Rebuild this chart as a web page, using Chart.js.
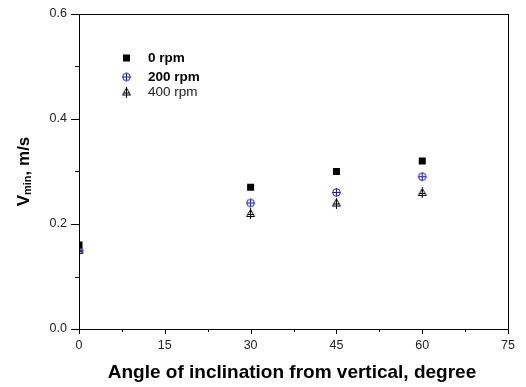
<!DOCTYPE html>
<html lang="en">
<head>
<meta charset="UTF-8" />
<title>Vmin vs angle of inclination</title>
<style>
  body { margin: 0; background: #fff; }
  #wrap { width: 526px; height: 387px; }
</style>
</head>
<body>
<div id="wrap"><canvas id="chart" width="526" height="387"></canvas></div>
<script src="https://cdn.jsdelivr.net/npm/chart.js"></script>
<script>
  const angles = [0, 30, 45, 60];
  const rpm0 = [0.16, 0.27, 0.30, 0.32];
  const rpm200 = [0.15, 0.24, 0.26, 0.29];
  const rpm400 = [0.15, 0.22, 0.24, 0.26];
  const seriesLabels = ["0 rpm", "200 rpm", "400 rpm"];
  const xTicks = [0, 15, 30, 45, 60, 75];
  const yTicks = [0.0, 0.2, 0.4, 0.6];

  const FONT = "'Liberation Sans', Arial, sans-serif";

  // marker images
  function makeMarker(kind) {
    const c = document.createElement("canvas");
    c.width = 11; c.height = 11;
    const g = c.getContext("2d");
    g.lineWidth = 1;
    if (kind === "square") {
      g.fillStyle = "#000";
      g.fillRect(2, 2, 7, 7);
    } else if (kind === "circle") {
      g.strokeStyle = "#1a1aa6";
      g.beginPath();
      g.arc(5.5, 5.5, 3.8, 0, Math.PI * 2);
      g.moveTo(1.5, 5.5); g.lineTo(9.5, 5.5);
      g.moveTo(5.5, 1.5); g.lineTo(5.5, 9.5);
      g.stroke();
    } else {
      g.strokeStyle = "#000";
      g.beginPath();
      g.moveTo(5.5, 1.5); g.lineTo(9.5, 8.5); g.lineTo(1.5, 8.5); g.closePath();
      g.moveTo(5.5, 0); g.lineTo(5.5, 11);
      g.moveTo(2.5, 6.5); g.lineTo(8.5, 6.5);
      g.stroke();
    }
    return c;
  }
  const markers = [makeMarker("square"), makeMarker("circle"), makeMarker("triangle")];

  function toPoints(ys) {
    return angles.map((x, i) => ({ x: x, y: ys[i] }));
  }

  const framePlugin = {
    id: "frame",
    afterDraw(chart) {
      const ctx = chart.ctx;
      const a = chart.chartArea;
      const xs = chart.scales.x, ys = chart.scales.y;
      ctx.save();
      ctx.strokeStyle = "#000";
      ctx.lineWidth = 1;
      ctx.strokeRect(a.left + 0.5, a.top + 0.5, a.right - a.left, a.bottom - a.top);

      // tick marks, majors longer than minors
      ctx.beginPath();
      for (let v = 0; v <= 75.001; v += 7.5) {
        const px = Math.round(xs.getPixelForValue(v)) + 0.5;
        const major = xTicks.some(t => Math.abs(t - v) < 1e-6);
        ctx.moveTo(px, a.bottom);
        ctx.lineTo(px, a.bottom + (major ? 5 : 3));
      }
      for (let v = 0; v <= 0.6001; v += 0.1) {
        const py = Math.round(ys.getPixelForValue(v)) + 0.5;
        const major = yTicks.some(t => Math.abs(t - v) < 1e-6);
        ctx.moveTo(a.left, py);
        ctx.lineTo(a.left - (major ? 8 : 4), py);
      }
      ctx.stroke();

      // legend inside plot
      const rows = [58, 77, 92];
      seriesLabels.forEach((lab, i) => {
        ctx.drawImage(markers[i], 121, rows[i] - 5.5);
        ctx.fillStyle = i === 2 ? "#222" : "#000";
        ctx.font = (i < 2 ? "bold " : "") + "13.5px " + FONT;
        ctx.textBaseline = "middle";
        ctx.fillText(lab, 148, rows[i]);
      });

      // x title
      ctx.fillStyle = "#000";
      ctx.textAlign = "center";
      ctx.textBaseline = "alphabetic";
      ctx.font = "bold 19px " + FONT;
      ctx.fillText("Angle of inclination from vertical, degree", 292, 378);

      // y title with subscript
      ctx.textAlign = "left";
      ctx.translate(29, (a.top + a.bottom) / 2);
      ctx.rotate(-Math.PI / 2);
      const big = "bold 17px " + FONT;
      const small = "bold 11px " + FONT;
      ctx.font = big; const w1 = ctx.measureText("V").width;
      ctx.font = small; const w2 = ctx.measureText("min").width;
      ctx.font = big; const w3 = ctx.measureText(", m/s").width;
      let x = -(w1 + w2 + w3) / 2;
      ctx.font = big; ctx.fillText("V", x, 0); x += w1;
      ctx.font = small; ctx.fillText("min", x, 2); x += w2;
      ctx.font = big; ctx.fillText(", m/s", x, 0);
      ctx.restore();
    }
  };

  new Chart(document.getElementById("chart"), {
    type: "scatter",
    data: {
      datasets: [
        { label: seriesLabels[0], data: toPoints(rpm0), pointStyle: markers[0], pointRadius: 5, clip: 0 },
        { label: seriesLabels[1], data: toPoints(rpm200), pointStyle: markers[1], pointRadius: 5, clip: 0 },
        { label: seriesLabels[2], data: toPoints(rpm400), pointStyle: markers[2], pointRadius: 5, clip: 0 }
      ]
    },
    options: {
      responsive: false,
      animation: false,
      layout: { padding: { top: 14, right: 18, left: 0, bottom: 0 } },
      plugins: { legend: { display: false }, tooltip: { enabled: false } },
      scales: {
        x: {
          type: "linear", min: 0, max: 75,
          afterFit(s) { s.height = 58; s.paddingLeft = 0; s.paddingRight = 0; },
          ticks: {
            stepSize: 7.5, color: "#222", padding: 9,
            font: { family: FONT, size: 12.5 },
            callback: v => xTicks.includes(v) ? String(v) : ""
          },
          grid: { drawOnChartArea: false, drawTicks: false },
          border: { color: "#000", width: 1 }
        },
        y: {
          type: "linear", min: 0, max: 0.6,
          afterFit(s) { s.width = 79; s.paddingTop = 0; s.paddingBottom = 0; },
          ticks: {
            stepSize: 0.1, color: "#222", padding: 12,
            font: { family: FONT, size: 12.5 },
            callback: v => yTicks.some(t => Math.abs(t - v) < 1e-6) ? v.toFixed(1) : ""
          },
          grid: { drawOnChartArea: false, drawTicks: false },
          border: { color: "#000", width: 1 }
        }
      }
    },
    plugins: [framePlugin]
  });
</script>
</body>
</html>
